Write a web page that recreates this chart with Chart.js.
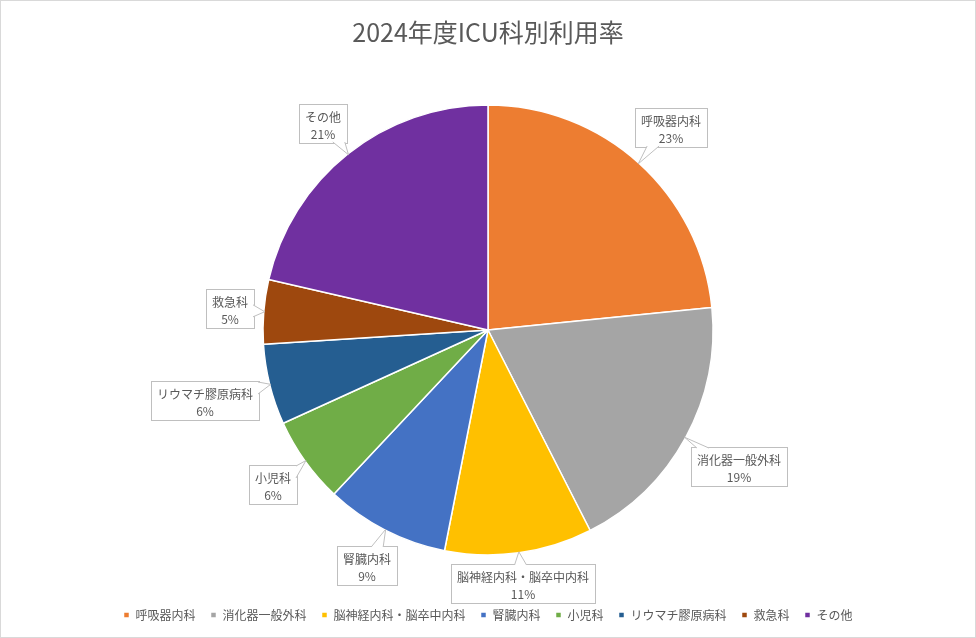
<!DOCTYPE html>
<html lang="ja">
<head>
<meta charset="utf-8">
<script src="https://cdn.jsdelivr.net/npm/chart.js@4/dist/chart.umd.min.js"></script>
<style>
  html, body { margin: 0; padding: 0; background: #fff; }
  #wrap { width: 976px; height: 638px; box-sizing: border-box; border: 1px solid #d9d9d9; position: relative; }
  #wrap canvas { display: block; }
</style>
</head>
<body>
<div id="wrap"><canvas id="pie"></canvas></div>
<script>
// ── data ──
const title = '2024年度ICU科別利用率';
const depts = ['呼吸器内科', '消化器一般外科', '脳神経内科・脳卒中内科', '腎臓内科', '小児科', 'リウマチ膠原病科', '救急科', 'その他'];
const shares = [23.4, 19.1, 10.6, 8.9, 6.2, 5.8, 4.6, 21.4];
const colors = ['#ED7D31', '#A5A5A5', '#FFC000', '#4472C4', '#70AD47', '#255E91', '#9E480E', '#7030A0'];

const FONT = "'Noto Sans CJK JP', 'Noto Sans', sans-serif";
const GREY = '#595959';

// distance from (px,py) to the nearest point of a box
function boxDist(px, py, bx, by, w, h) {
  const nx = Math.min(Math.max(px, bx), bx + w);
  const ny = Math.min(Math.max(py, by), by + h);
  return Math.hypot(nx - px, ny - py);
}

// callout boxes (Excel style) drawn outside each slice
const calloutPlugin = {
  id: 'callouts',
  afterDatasetsDraw(chart) {
    const ctx = chart.ctx;
    const meta = chart.getDatasetMeta(0);
    const total = shares.reduce((a, b) => a + b, 0);
    ctx.save();
    ctx.font = '12px ' + FONT;
    meta.data.forEach((arc, i) => {
      const mid = (arc.startAngle + arc.endAngle) / 2;
      const ux = Math.cos(mid), uy = Math.sin(mid);
      const r = arc.outerRadius;
      const pct = Math.round(shares[i] / total * 100) + '%';
      const w = Math.round(Math.max(ctx.measureText(depts[i]).width, ctx.measureText(pct).width) + 12);
      const h = 39;
      // push the box out until its nearest point is 9px clear of the pie
      let d = r;
      while (d < r + 300) {
        const cxT = arc.x + ux * d, cyT = arc.y + uy * d;
        if (boxDist(arc.x, arc.y, cxT - w / 2, cyT - h / 2, w, h) >= r + 9) break;
        d += 0.5;
      }
      const cx = arc.x + ux * d, cy = arc.y + uy * d;
      const bx = Math.round(cx - w / 2), by = Math.round(cy - h / 2);
      const tipX = arc.x + ux * (r - 1), tipY = arc.y + uy * (r - 1);

      // where the line box-center -> tip leaves the box
      const dx = tipX - cx, dy = tipY - cy;
      const sx = Math.abs(dx) > 0 ? (w / 2) / Math.abs(dx) : Infinity;
      const sy = Math.abs(dy) > 0 ? (h / 2) / Math.abs(dy) : Infinity;
      let b1, b2;
      const half = 6;
      if (sx < sy) {
        const ex = dx > 0 ? bx + w : bx;
        let ey = cy + dy * sx;
        ey = Math.min(Math.max(ey, by + half + 1), by + h - half - 1);
        const inset = dx > 0 ? -1 : 1;
        b1 = [ex + inset, ey - half]; b2 = [ex + inset, ey + half];
      } else {
        const ey = dy > 0 ? by + h : by;
        let ex = cx + dx * sy;
        ex = Math.min(Math.max(ex, bx + half + 1), bx + w - half - 1);
        const inset = dy > 0 ? -1 : 1;
        b1 = [ex - half, ey + inset]; b2 = [ex + half, ey + inset];
      }

      ctx.lineWidth = 1;
      ctx.strokeStyle = '#bfbfbf';
      ctx.fillStyle = '#ffffff';
      ctx.fillRect(bx, by, w, h);
      ctx.strokeRect(bx + 0.5, by + 0.5, w, h);

      ctx.beginPath();
      ctx.moveTo(b1[0], b1[1]);
      ctx.lineTo(tipX, tipY);
      ctx.lineTo(b2[0], b2[1]);
      ctx.closePath();
      ctx.fill();
      ctx.beginPath();
      ctx.moveTo(b1[0], b1[1]);
      ctx.lineTo(tipX, tipY);
      ctx.lineTo(b2[0], b2[1]);
      ctx.stroke();

      ctx.fillStyle = GREY;
      ctx.textAlign = 'center';
      ctx.textBaseline = 'middle';
      ctx.fillText(depts[i], bx + w / 2, by + 13);
      ctx.fillText(pct, bx + w / 2, by + 30);
    });
    ctx.restore();
  }
};

new Chart(document.getElementById('pie'), {
  type: 'pie',
  data: {
    labels: depts,
    datasets: [{
      data: shares,
      backgroundColor: colors,
      borderColor: '#ffffff',
      borderWidth: 1.5,
      radius: 225
    }]
  },
  options: {
    responsive: true,
    maintainAspectRatio: false,
    animation: false,
    layout: { padding: { top: 0, bottom: 6, left: 0, right: 0 } },
    plugins: {
      title: {
        display: true,
        text: title,
        color: GREY,
        font: { family: FONT, size: 25, weight: 'normal' },
        padding: { top: 16, bottom: 19 }
      },
      legend: {
        position: 'bottom',
        labels: {
          color: GREY,
          font: { family: FONT, size: 12 },
          boxWidth: 6,
          boxHeight: 6,
          padding: 15
        }
      },
      tooltip: { enabled: false }
    }
  },
  plugins: [calloutPlugin]
});
</script>
</body>
</html>
